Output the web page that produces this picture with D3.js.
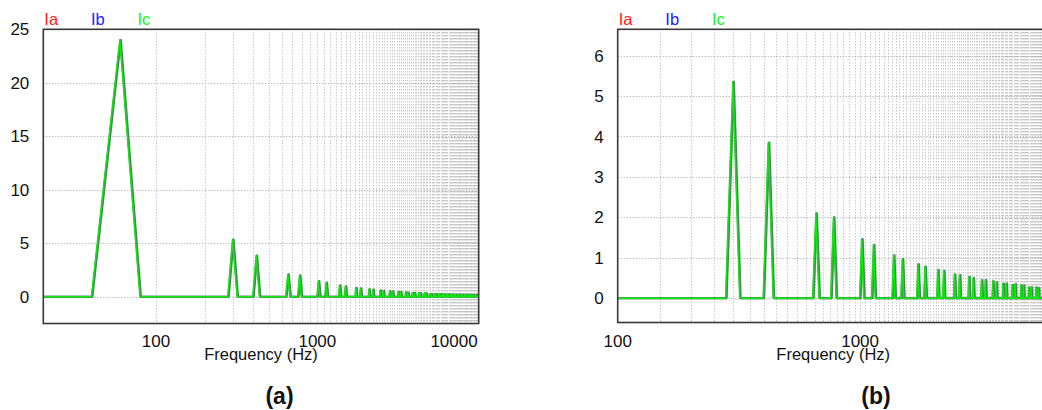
<!DOCTYPE html>
<html><head><meta charset="utf-8">
<script src="https://cdn.jsdelivr.net/npm/d3@7"></script>
<style>html,body{margin:0;padding:0;background:#fff;overflow:hidden}</style>
</head><body><svg id="c" width="1042" height="410"></svg>
<script>
// ---- data ----
const seriesNames = ["Ia", "Ib", "Ic"];
const seriesColors = ["#ff2020", "#2020ff", "#20f020"];
// bin spacing of the spectrum (Hz)
const binStep = 20;
// harmonic peak frequencies (Hz) and amplitudes (identical for Ia, Ib, Ic)
const peakFreqs = [60, 300, 420, 660, 780, 1020, 1140, 1380, 1500, 1740, 1860, 2100, 2220, 2460, 2580,
  2820, 2940, 3180, 3300, 3540, 3660, 3900, 4020, 4260, 4380, 4620, 4740, 4980, 5100, 5340, 5460,
  5700, 5820, 6060, 6180, 6420, 6540, 6780, 6900, 7140, 7260, 7500, 7620, 7860, 7980, 8220, 8340,
  8580, 8700, 8940, 9060, 9300, 9420, 9660, 9780];
const peakAmps = [24.0, 5.35, 3.85, 2.1, 2.0, 1.46, 1.32, 1.06, 0.97, 0.84, 0.78, 0.70, 0.68, 0.59, 0.57,
  0.53, 0.50, 0.45, 0.45, 0.42, 0.39, 0.36, 0.36, 0.33, 0.35, 0.32, 0.32, 0.27, 0.27, 0.27, 0.25,
  0.25, 0.24, 0.24, 0.23, 0.23, 0.22, 0.21, 0.21, 0.20, 0.20, 0.20, 0.19, 0.19, 0.18, 0.18, 0.18,
  0.17, 0.17, 0.17, 0.16, 0.16, 0.16, 0.15, 0.15];
const freqStart = 20, freqEnd = 10000;
const yTicksA = [0, 5, 10, 15, 20, 25];
const yTicksB = [0, 1, 2, 3, 4, 5, 6];
const xLabelsA = ["100", "1000", "10000"];
const xLabelsB = ["100", "1000"];
const axisTitle = "Frequency (Hz)";
const panelTitles = ["(a)", "(b)"];

// build the spectrum polyline from the peak list
const spectrum = [[freqStart, 0]];
peakFreqs.forEach((f, i) => {
  spectrum.push([f - binStep, 0], [f, peakAmps[i]], [f + binStep, 0]);
});
spectrum.push([freqEnd, 0]);

const FONT = "'Liberation Sans', Arial, sans-serif";
const svg = d3.select("#c");

function drawPanel(cfg, idx) {
  const x = d3.scaleLog().domain(cfg.xDomain).range([cfg.left, cfg.right]);
  const y = d3.scaleLinear().domain(cfg.yDomain).range([cfg.bottom, cfg.top]);
  const g = svg.append("g");
  const clipId = "clip" + idx;
  g.append("clipPath").attr("id", clipId).append("rect")
    .attr("x", cfg.left).attr("y", cfg.top)
    .attr("width", cfg.right - cfg.left).attr("height", cfg.bottom - cfg.top);

  // vertical grid
  const vt = x.ticks(100).filter(t => t > cfg.xDomain[0] && t < cfg.xDomain[1]);
  g.selectAll(".vg").data(vt).enter().append("line")
    .attr("x1", d => Math.round(x(d)) + 0.5).attr("x2", d => Math.round(x(d)) + 0.5)
    .attr("y1", cfg.top).attr("y2", cfg.bottom)
    .attr("stroke", "#b2b2b2").attr("stroke-width", 1).attr("stroke-dasharray", "1,2");
  // horizontal grid
  g.selectAll(".hg").data(cfg.yTicks).enter().append("line")
    .attr("x1", cfg.left).attr("x2", cfg.right)
    .attr("y1", d => Math.round(y(d)) + 0.5).attr("y2", d => Math.round(y(d)) + 0.5)
    .attr("stroke", "#a0a0a0").attr("stroke-width", 1).attr("stroke-dasharray", "1,2");

  // series lines (Ia, Ib underneath, Ic on top; they coincide)
  const line = d3.line().x(d => x(d[0])).y(d => y(d[1]));
  const lg = g.append("g").attr("clip-path", `url(#${clipId})`);
  lg.append("path").datum(spectrum).attr("d", line).attr("fill", "none")
    .attr("stroke", "#5e7a68").attr("stroke-width", 2.2).attr("stroke-linejoin", "round")
    .attr("transform", "translate(0.5,0)");
  lg.append("path").datum(spectrum).attr("d", line).attr("fill", "none")
    .attr("stroke", "#3f8a55").attr("stroke-width", 1.8).attr("stroke-linejoin", "round");
  lg.append("path").datum(spectrum).attr("d", line).attr("fill", "none")
    .attr("stroke", "#0ee80e").attr("stroke-width", 1.5).attr("stroke-linejoin", "round")
    .attr("transform", "translate(-0.5,0)");

  // frame
  g.append("rect").attr("x", cfg.left).attr("y", cfg.top)
    .attr("width", cfg.right - cfg.left).attr("height", cfg.bottom - cfg.top)
    .attr("fill", "none").attr("stroke", "#383838").attr("stroke-width", 1.6);

  // y tick labels
  g.selectAll(".yl").data(cfg.yTicks).enter().append("text")
    .attr("x", cfg.left - 14).attr("y", d => y(d)).attr("dy", "0.36em")
    .attr("text-anchor", "end").attr("font-family", FONT).attr("font-size", 17)
    .attr("fill", "#111").text(d => d);
  // x tick labels
  g.selectAll(".xl").data(cfg.xLabels).enter().append("text")
    .attr("x", (d, i) => cfg.lastEnd && i === cfg.xLabels.length - 1 ? x(+d) - 1 : x(+d))
    .attr("y", 346.5)
    .attr("text-anchor", (d, i) => cfg.lastEnd && i === cfg.xLabels.length - 1 ? "end" : "middle")
    .attr("font-family", FONT).attr("font-size", 17).attr("fill", "#111").text(d => d);
  // axis title
  g.append("text").attr("x", (cfg.left + cfg.right) / 2).attr("y", 360)
    .attr("text-anchor", "middle").attr("font-family", FONT).attr("font-size", 16.5)
    .attr("fill", "#111").text(axisTitle);
  // legend
  g.selectAll(".lgd").data(seriesNames).enter().append("text")
    .attr("x", (d, i) => cfg.left + 1 + i * 46.6).attr("y", 25)
    .attr("font-family", FONT).attr("font-size", 16.5).attr("fill", (d, i) => seriesColors[i])
    .text(d => d);
  // panel title
  g.append("text").attr("x", cfg.titleX).attr("y", 404).attr("text-anchor", "middle")
    .attr("font-family", FONT).attr("font-size", 23).attr("font-weight", "bold")
    .attr("fill", "#111").text(panelTitles[idx]);
}

drawPanel({left: 43.3, right: 478.7, top: 29.3, bottom: 323.5, xDomain: [20, 10000], yDomain: [-2.5, 25],
  yTicks: yTicksA, xLabels: xLabelsA, lastEnd: true, titleX: 279.5}, 0);
drawPanel({left: 617.7, right: 1048.7, top: 29.3, bottom: 322.5, xDomain: [100, 6000], yDomain: [-0.6, 6.65],
  yTicks: yTicksB, xLabels: xLabelsB, lastEnd: false, titleX: 876}, 1);
</script>
</body></html>
